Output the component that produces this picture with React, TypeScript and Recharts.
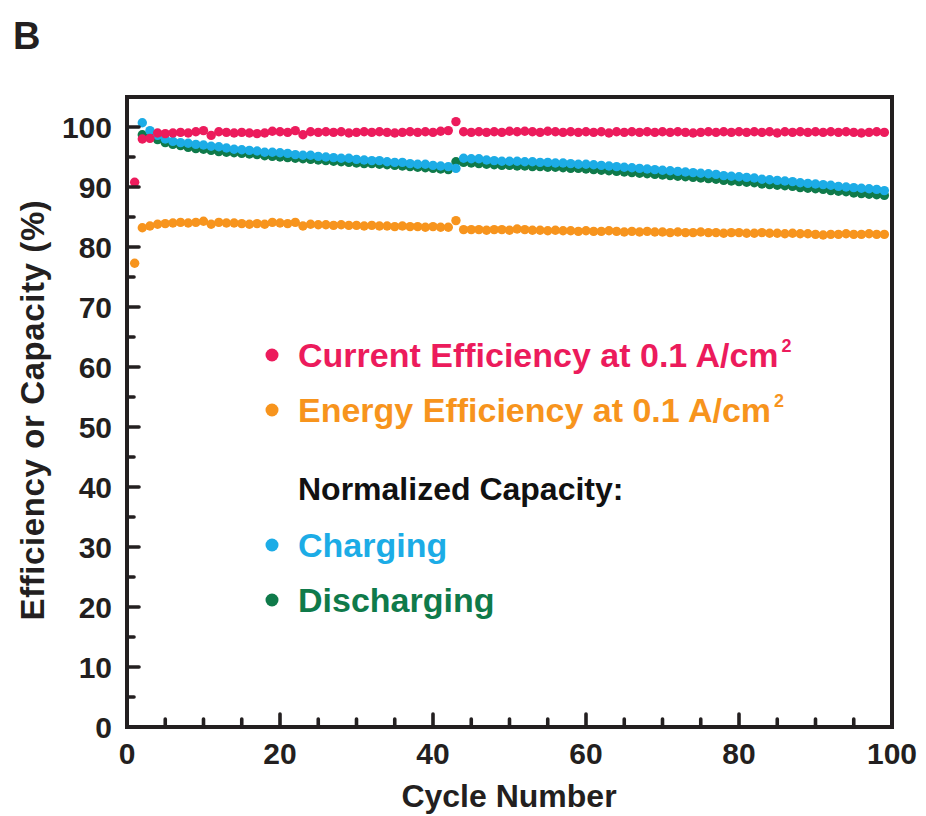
import React from 'react';
import { ScatterChart, Scatter, XAxis, YAxis, Legend } from 'recharts';

// Cycle-by-cycle performance of the flow cell (cycles 1–99)
const currentEfficiency = [
  90.8, 98.0, 98.1, 99.0, 98.9, 99.0, 99.1, 99.0, 99.2, 99.4,
  98.6, 99.2, 99.1, 99.0, 99.1, 99.0, 98.9, 99.0, 99.3, 99.2,
  99.1, 99.4, 98.7, 99.2, 99.1, 99.2, 99.1, 99.2, 99.0, 99.1,
  99.2, 99.1, 99.2, 99.1, 99.0, 99.1, 99.2, 99.1, 99.2, 99.1,
  99.3, 99.4, 100.9, 99.2, 99.1, 99.2, 99.1, 99.2, 99.1, 99.3,
  99.2, 99.3, 99.2, 99.1, 99.3, 99.2, 99.1, 99.2, 99.1, 99.2,
  99.1, 99.2, 99.0, 99.2, 99.1, 99.2, 99.1, 99.2, 99.1, 99.2,
  99.1, 99.2, 99.1, 99.0, 99.1, 99.2, 99.1, 99.2, 99.1, 99.2,
  99.1, 99.2, 99.1, 99.2, 99.0, 99.2, 99.1, 99.2, 99.1, 99.2,
  99.1, 99.2, 99.1, 99.2, 99.1, 99.0, 99.1, 99.2, 99.1,
];

const energyEfficiency = [
  77.3, 83.2, 83.5, 83.8, 83.9, 84.0, 84.1, 84.0, 84.1, 84.3,
  83.8, 84.1, 84.0, 84.0, 83.9, 83.8, 83.9, 83.8, 84.1, 84.0,
  83.9, 84.1, 83.5, 83.8, 83.7, 83.7, 83.6, 83.7, 83.6, 83.6,
  83.5, 83.6, 83.5, 83.5, 83.4, 83.5, 83.4, 83.4, 83.3, 83.4,
  83.3, 83.3, 84.4, 82.9, 82.9, 82.9, 82.8, 82.9, 82.9, 82.8,
  83.0, 82.9, 82.8, 82.8, 82.7, 82.8, 82.7, 82.7, 82.6, 82.7,
  82.6, 82.6, 82.7, 82.6, 82.5, 82.6, 82.5, 82.6, 82.5, 82.5,
  82.4, 82.5, 82.4, 82.4, 82.5, 82.4, 82.4, 82.3, 82.4, 82.4,
  82.3, 82.3, 82.4, 82.3, 82.3, 82.2, 82.3, 82.2, 82.2, 82.1,
  82.0, 82.1, 82.1, 82.2, 82.1, 82.1, 82.2, 82.1, 82.1,
];

const chargingCapacity = [
  null, 100.7, 99.4, 98.6, 98.0, 97.6, 97.4, 97.3, 97.1, 97.0,
  96.8, 96.7, 96.5, 96.3, 96.2, 96.1, 96.0, 95.8, 95.8, 95.7,
  95.6, 95.4, 95.3, 95.3, 95.1, 95.0, 94.9, 94.8, 94.8, 94.6,
  94.5, 94.4, 94.4, 94.2, 94.1, 94.1, 93.9, 93.8, 93.8, 93.6,
  93.5, 93.4, 93.1, 94.8, 94.7, 94.7, 94.5, 94.4, 94.3, 94.3,
  94.3, 94.2, 94.2, 94.1, 94.1, 94.0, 94.0, 93.9, 93.8, 93.8,
  93.7, 93.6, 93.5, 93.4, 93.3, 93.2, 93.1, 93.0, 92.9, 92.8,
  92.7, 92.6, 92.5, 92.4, 92.3, 92.2, 92.1, 91.9, 91.8, 91.7,
  91.6, 91.5, 91.3, 91.2, 91.1, 91.0, 90.9, 90.7, 90.6, 90.5,
  90.4, 90.3, 90.1, 90.0, 89.9, 89.8, 89.7, 89.6, 89.4,
];

const dischargingCapacity = [
  null, 98.7, 98.3, 97.9, 97.4, 97.1, 96.9, 96.6, 96.4, 96.3,
  96.1, 95.9, 95.8, 95.7, 95.6, 95.5, 95.4, 95.2, 95.1, 95.0,
  94.9, 94.8, 94.7, 94.6, 94.5, 94.4, 94.3, 94.2, 94.1, 94.0,
  93.9, 93.9, 93.8, 93.7, 93.6, 93.5, 93.4, 93.3, 93.2, 93.1,
  93.0, 92.9, 94.2, 94.1, 94.0, 93.9, 93.8, 93.7, 93.6, 93.6,
  93.5, 93.5, 93.4, 93.4, 93.3, 93.3, 93.2, 93.1, 93.1, 93.0,
  92.9, 92.8, 92.7, 92.6, 92.5, 92.4, 92.3, 92.2, 92.1, 92.0,
  91.9, 91.8, 91.7, 91.6, 91.5, 91.4, 91.3, 91.1, 91.0, 90.9,
  90.8, 90.7, 90.5, 90.4, 90.3, 90.2, 90.1, 89.9, 89.8, 89.7,
  89.6, 89.4, 89.3, 89.2, 89.0, 88.9, 88.8, 88.7, 88.6,
];

const xTicks = [0, 5, 10, 15, 20, 25, 30, 35, 40, 45, 50, 55, 60, 65, 70, 75, 80, 85, 90, 95, 100];
const yTicks = [0, 5, 10, 15, 20, 25, 30, 35, 40, 45, 50, 55, 60, 65, 70, 75, 80, 85, 90, 95, 100];

const INK = '#231f20';
const FONT = '"Liberation Sans", Arial, Helvetica, sans-serif';

const COLORS = {
  current: '#ec1b5c',
  energy: '#f7941d',
  charging: '#1cace6',
  discharging: '#0f7a4a',
};

const toPoints = (values: (number | null)[]) =>
  values
    .map((v, i) => ({ cycle: i + 1, value: v }))
    .filter((p) => p.value !== null);

const currentData = toPoints(currentEfficiency);
const energyData = toPoints(energyEfficiency);
const chargingData = toPoints(chargingCapacity);
const dischargingData = toPoints(dischargingCapacity);

const dot = (color: string) => (props: any) =>
  <circle cx={props.cx} cy={props.cy} r={4.7} fill={color} />;

// Inward-pointing tick marks on all four sides of the frame
const TICK_W = 3.6;

const BottomTick = (props: any) => {
  const { x, y, payload } = props;
  const v = payload.value;
  const major = v % 20 === 0;
  return (
    <g>
      <line x1={x} x2={x} y1={y} y2={y - (major ? 13 : 8)} stroke={INK} strokeWidth={TICK_W} strokeLinecap="round" />
      {major && (
        <text x={x} y={y + 37} textAnchor="middle" fontFamily={FONT} fontWeight={700} fontSize={30} fill={INK}>
          {v}
        </text>
      )}
    </g>
  );
};

const TopTick = (props: any) => {
  const { x, y, payload } = props;
  const major = payload.value % 20 === 0;
  return <line x1={x} x2={x} y1={y} y2={y + (major ? 13 : 8)} stroke={INK} strokeWidth={TICK_W} strokeLinecap="round" />;
};

const LeftTick = (props: any) => {
  const { x, y, payload } = props;
  const v = payload.value;
  const major = v % 10 === 0;
  return (
    <g>
      <line x1={x} x2={x + (major ? 12 : 7)} y1={y} y2={y} stroke={INK} strokeWidth={TICK_W} strokeLinecap="round" />
      {major && (
        <text x={x - 15} y={y + 11} textAnchor="end" fontFamily={FONT} fontWeight={700} fontSize={30} fill={INK}>
          {v}
        </text>
      )}
    </g>
  );
};

const RightTick = (props: any) => {
  const { x, y, payload } = props;
  const major = payload.value % 10 === 0;
  return <line x1={x} x2={x - (major ? 12 : 7)} y1={y} y2={y} stroke={INK} strokeWidth={TICK_W} strokeLinecap="round" />;
};

const XTitle = () => (
  <text x={501} y={799} textAnchor="middle" fontFamily={FONT} fontWeight={700} fontSize={32} fill={INK}>
    Cycle Number
  </text>
);

const YTitle = () => (
  <text
    x={36}
    y={402}
    transform="rotate(-90 36 402)"
    textAnchor="middle"
    fontFamily={FONT}
    fontWeight={700}
    fontSize={33}
    letterSpacing={0.6}
    fill={INK}
  >
    Efficiency or Capacity (%)
  </text>
);

const legendOrder = ['Current Efficiency at 0.1 A/cm', 'Energy Efficiency at 0.1 A/cm', 'Charging', 'Discharging'];
const legendRowY: Record<string, number> = {
  'Current Efficiency at 0.1 A/cm': 37,
  'Energy Efficiency at 0.1 A/cm': 92,
  Charging: 227,
  Discharging: 282,
};
const superscripted = new Set(['Current Efficiency at 0.1 A/cm', 'Energy Efficiency at 0.1 A/cm']);

const LegendBox = (props: any) => {
  const payload: any[] = props.payload || [];
  const items = legendOrder
    .map((name) => payload.find((p) => p.value === name))
    .filter(Boolean);
  return (
    <svg width={600} height={310} style={{ overflow: 'visible' }}>
      {items.map((item: any) => {
        const cy = legendRowY[item.value];
        return (
          <g key={item.value}>
            <circle cx={24} cy={cy} r={6.5} fill={item.color} />
            <text x={50} y={cy + 12} fontFamily={FONT} fontWeight={700} fontSize={34} fill={item.color}>
              {item.value}
              {superscripted.has(item.value) && (
                <tspan fontSize={18} dy={-15} dx={3}>
                  2
                </tspan>
              )}
            </text>
          </g>
        );
      })}
      <text x={50} y={182} fontFamily={FONT} fontWeight={700} fontSize={32} fill="#111">
        Normalized Capacity:
      </text>
    </svg>
  );
};

export default function App() {
  return (
    <div style={{ position: 'relative', width: 918, height: 808 }}>
      <div
        style={{
          position: 'absolute',
          left: 5,
          top: 8,
          fontFamily: FONT,
          fontWeight: 700,
          fontSize: 38,
          color: INK,
          lineHeight: '40px',
        }}
      >
        B
      </div>
      <ScatterChart width={918} height={808} margin={{ top: 88, right: 33, bottom: 0, left: 0 }}>
        <XAxis
          type="number"
          dataKey="cycle"
          domain={[0, 100]}
          ticks={xTicks}
          interval={0}
          height={89}
          tickSize={0}
          tickMargin={0}
          tick={<BottomTick />}
          tickLine={false}
          axisLine={{ stroke: INK, strokeWidth: 4, strokeLinecap: 'square' }}
          label={<XTitle />}
        />
        <XAxis
          xAxisId="top"
          orientation="top"
          type="number"
          dataKey="cycle"
          domain={[0, 100]}
          ticks={xTicks}
          interval={0}
          height={1}
          tickSize={0}
          tickMargin={0}
          tick={<TopTick />}
          tickLine={false}
          axisLine={{ stroke: INK, strokeWidth: 4, strokeLinecap: 'square' }}
        />
        <YAxis
          type="number"
          dataKey="value"
          domain={[0, 105]}
          ticks={yTicks}
          interval={0}
          width={119}
          tickSize={0}
          tickMargin={0}
          tick={<LeftTick />}
          tickLine={false}
          axisLine={{ stroke: INK, strokeWidth: 4, strokeLinecap: 'square' }}
          label={<YTitle />}
        />
        <YAxis
          yAxisId="right"
          orientation="right"
          type="number"
          dataKey="value"
          domain={[0, 105]}
          ticks={yTicks}
          interval={0}
          width={1}
          tickSize={0}
          tickMargin={0}
          tick={<RightTick />}
          tickLine={false}
          axisLine={{ stroke: INK, strokeWidth: 4, strokeLinecap: 'square' }}
        />
        <Scatter
          name="Discharging"
          data={dischargingData}
          fill={COLORS.discharging}
          shape={dot(COLORS.discharging)}
          isAnimationActive={false}
        />
        <Scatter
          name="Charging"
          data={chargingData}
          fill={COLORS.charging}
          shape={dot(COLORS.charging)}
          isAnimationActive={false}
        />
        <Scatter
          name="Energy Efficiency at 0.1 A/cm"
          data={energyData}
          fill={COLORS.energy}
          shape={dot(COLORS.energy)}
          isAnimationActive={false}
        />
        <Scatter
          name="Current Efficiency at 0.1 A/cm"
          data={currentData}
          fill={COLORS.current}
          shape={dot(COLORS.current)}
          isAnimationActive={false}
        />
        <Legend
          layout="horizontal"
          verticalAlign="middle"
          align="center"
          content={<LegendBox />}
          wrapperStyle={{ left: 240, top: 310, width: 600, height: 310 }}
        />
      </ScatterChart>
    </div>
  );
}
